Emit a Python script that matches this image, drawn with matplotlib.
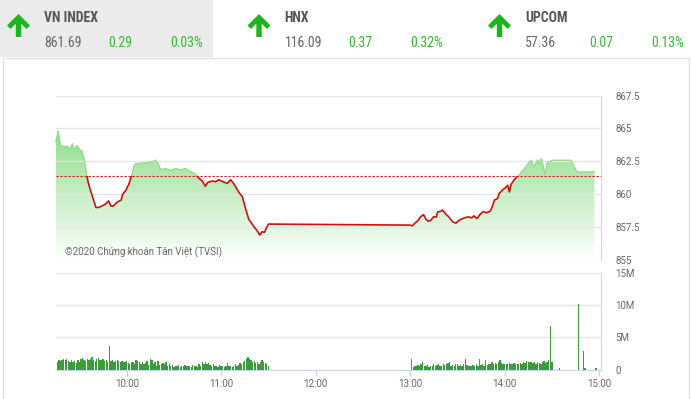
import numpy as np
import matplotlib
matplotlib.use("Agg")
import matplotlib.pyplot as plt
from matplotlib import font_manager
from matplotlib.patches import Polygon, Rectangle

# intraday VN-Index, time -> index value
price_times = ["09:15:00", "09:16:30", "09:18:00", "09:20:30", "09:22:30", "09:24:00", "09:25:30",
               "09:26:30", "09:28:30", "09:30:00", "09:31:30", "09:33:00", "09:34:30", "09:35:30",
               "09:37:00", "09:39:00", "09:40:30", "09:42:30", "09:43:30", "09:46:30", "09:48:30",
               "09:50:00", "09:51:30", "09:54:00", "09:56:30", "09:57:30", "09:59:30", "10:01:30",
               "10:03:00", "10:04:30", "10:05:30", "10:09:00", "10:13:00", "10:17:30", "10:18:30",
               "10:20:30", "10:21:30", "10:25:00", "10:28:00", "10:31:00", "10:33:30", "10:37:30",
               "10:40:30", "10:43:30", "10:46:00", "10:48:00", "10:50:00", "10:51:30", "10:54:30",
               "10:56:30", "10:58:30", "11:02:00", "11:04:00", "11:06:00", "11:08:00", "11:11:30",
               "11:13:30", "11:15:30", "11:17:30", "11:21:00", "11:23:00", "11:24:30", "11:26:00",
               "11:27:30", "11:29:00", "11:30:00", "13:00:00", "13:01:30", "13:03:00", "13:05:00",
               "13:06:30", "13:08:30", "13:10:00", "13:11:30", "13:13:00", "13:15:00", "13:16:30",
               "13:17:30", "13:19:30", "13:20:30", "13:22:30", "13:24:30", "13:27:00", "13:29:00",
               "13:31:00", "13:32:30", "13:34:30", "13:37:00", "13:39:00", "13:40:30", "13:42:30",
               "13:44:30", "13:46:30", "13:48:30", "13:51:00", "13:52:30", "13:53:30", "13:55:30",
               "13:56:30", "13:58:30", "14:00:30", "14:02:00", "14:03:00", "14:04:00", "14:05:30",
               "14:07:30", "14:09:00", "14:11:30", "14:13:30", "14:15:30", "14:17:00", "14:18:30",
               "14:21:00", "14:22:00", "14:23:00", "14:24:00", "14:25:30", "14:27:00", "14:30:30",
               "14:42:00", "14:46:00", "14:57:00"]
price_values = [864.0, 864.8, 863.7, 863.6, 863.65, 863.4, 863.84,
                863.4, 863.7, 863.4, 863.3, 862.7, 861.57, 860.93,
                860.3, 859.55, 858.99, 859.0, 859.06, 859.24, 859.49,
                859.1, 859.1, 859.4, 859.55, 860.0, 860.3, 860.8,
                861.36, 862.07, 862.32, 862.35, 862.4, 862.52, 862.6,
                862.2, 861.87, 861.95, 861.8, 861.98, 861.85, 861.95,
                861.7, 861.57, 861.2, 861.0, 860.6, 860.9, 861.0,
                860.95, 861.1, 860.9, 860.83, 861.1, 860.8, 860.1,
                859.8, 858.9, 858.1, 857.5, 857.2, 856.9, 857.15,
                857.1, 857.5, 857.73, 857.65, 857.6, 857.8, 858.0,
                858.28, 858.45, 858.1, 857.95, 858.0, 858.3, 858.25,
                858.66, 858.7, 858.8, 858.5, 858.28, 857.9, 857.8,
                858.0, 858.1, 858.2, 858.28, 858.2, 858.35, 858.15,
                858.48, 858.68, 858.58, 858.73, 859.17, 859.55, 859.67,
                860.05, 860.3, 860.5, 860.68, 860.17, 860.73, 861.0,
                861.3, 861.45, 861.8, 862.1, 862.45, 862.58, 862.1,
                862.6, 862.27, 862.7, 862.45, 861.52, 862.4, 862.58,
                862.58, 861.69, 861.69]
ref_price = 861.40

# volume per minute, millions of shares
vol_am_start = "09:15"
vol_am = [6.6, 1.2, 1.4, 1.3, 1.5, 1.6, 1.4, 1.7, 1.3, 1.2,
          1.5, 1.1, 1.3, 1.0, 1.4, 1.2, 1.6, 1.8, 1.5, 1.3,
          1.7, 1.4, 1.6, 1.9, 1.5, 1.3, 1.7, 1.8, 1.5, 1.4,
          1.6, 1.3, 1.5, 1.2, 3.6, 1.3, 1.4, 1.2, 1.3, 1.4,
          1.3, 1.2, 1.3, 1.2, 1.1, 1.3, 1.0, 0.9, 1.1, 1.2,
          0.8, 1.5, 1.3, 1.1, 0.9, 1.2, 0.8, 1.0, 1.3, 0.7,
          1.6, 1.4, 0.8, 1.1, 0.6, 1.3, 0.7, 0.9, 1.0, 0.8,
          1.2, 0.6, 0.9, 0.5, 0.7, 0.4, 0.6, 0.5, 0.7, 0.4,
          0.6, 0.5, 0.7, 0.6, 0.5, 0.6, 0.4, 0.7, 0.5, 0.6,
          0.4, 0.8, 0.5, 1.1, 0.9, 1.2, 0.8, 1.0, 0.7, 0.6,
          0.8, 0.5, 0.6, 0.4, 0.7, 0.5, 0.6, 0.4, 0.5, 1.0,
          0.6, 0.5, 0.4, 0.6, 0.8, 0.5, 0.7, 1.0, 0.9, 1.1,
          1.3, 1.6, 1.9, 1.7, 1.4, 1.1, 1.3, 1.0, 1.2, 0.9,
          1.2, 1.4, 1.1, 1.0, 0.8, 0.5]
vol_pm_start = "13:01"
vol_pm = [1.6, 0.4, 0.5, 0.6, 0.7, 0.5, 0.8, 1.2, 0.6, 0.5,
          0.7, 0.4, 0.6, 0.5, 0.8, 0.6, 0.7, 0.9, 0.5, 0.6,
          0.8, 0.7, 0.9, 1.0, 1.1, 0.6, 0.7, 0.5, 0.9, 0.8,
          0.6, 0.7, 0.5, 0.8, 1.7, 0.7, 0.6, 0.5, 0.6, 0.7,
          0.5, 0.8, 0.6, 1.6, 0.7, 0.9, 0.6, 1.4, 0.7, 0.8,
          0.9, 1.1, 0.8, 1.0, 0.9, 1.2, 1.5, 1.0, 0.9, 0.8,
          0.9, 0.8, 1.0, 0.8, 0.9, 1.0, 0.8, 0.9, 0.8, 1.0,
          0.9, 1.1, 1.0, 1.3, 1.2, 1.1, 1.2, 1.0, 1.1, 0.9,
          1.2, 1.0, 0.9, 1.1, 1.3, 1.0, 1.2, 1.4, 6.8, 1.2]
atc_times = ["14:35", "14:47", "14:50", "14:51", "14:58"]
atc_vol = [0.2, 10.2, 2.9, 0.3, 0.2]

price_ticks = [855, 857.5, 860, 862.5, 865, 867.5]
price_labels = ["855", "857.5", "860", "862.5", "865", "867.5"]
vol_ticks = [0, 5, 10, 15]
vol_labels = ["0", "5M", "10M", "15M"]
time_labels = ["10:00", "11:00", "12:00", "13:00", "14:00", "15:00"]

idx_names = ["VN INDEX", "HNX", "UPCOM"]
idx_values = ["861.69", "116.09", "57.36"]
idx_change = ["0.29", "0.37", "0.07"]
idx_pct = ["0.03%", "0.32%", "0.13%"]


def to_min(s):
    p = [int(v) for v in s.split(":")]
    return p[0] * 60 + p[1] + (p[2] / 60 if len(p) > 2 else 0)


names = {f.name for f in font_manager.fontManager.ttflist}
head_font = "Roboto"
for cand in ["Roboto Condensed", "Liberation Sans Narrow"]:
    if cand in names:
        head_font = cand
        break

W, H = 691, 399
fig = plt.figure(figsize=(W / 100, H / 100), dpi=100)


def box(l, t, r, b):
    return [l / W, 1 - b / H, (r - l) / W, (b - t) / H]


# header / frame decoration in pixel coordinates
deco = fig.add_axes([0, 0, 1, 1])
deco.set_xlim(0, W)
deco.set_ylim(H, 0)
deco.axis("off")
deco.add_patch(Rectangle((0, 0), 213, 57, color="#ebebeb", lw=0))
deco.plot([3, 3, 689, 689], [H + 2, 58, 58, H + 2], color="#e2e2e2", lw=1)

arrow = np.array([[0, -11.5], [11.5, 0], [8, 3.5], [2.7, -1.8], [2.7, 11.5], [-2.7, 11.5],
                  [-2.7, -1.8], [-8, 3.5], [-11.5, 0]])
green = "#33bb33"
for i, name in enumerate(idx_names):
    x0 = 44 + i * 240.5
    deco.add_patch(Polygon(arrow + [x0 - 25.5, 25.5], closed=True, color="#1cb51c", lw=0))
    deco.text(x0, 22.3, name, fontsize=10, fontweight="bold", color="#555555",
              family=head_font, va="baseline")
    deco.text(x0, 47.3, idx_values[i], fontsize=10, color="#666666", family=head_font, va="baseline")
    deco.text(x0 + 64, 47.3, idx_change[i], fontsize=10, color=green, family=head_font, va="baseline")
    deco.text(x0 + 126, 47.3, idx_pct[i], fontsize=10, color=green, family=head_font, va="baseline")

# price panel
ax = fig.add_axes(box(55.8, 95.5, 600.7, 260))
ax.set_facecolor("none")
t = np.array([to_min(s) for s in price_times])
p = np.array(price_values)
x0, x1 = to_min("09:15"), to_min("15:01")

top = np.array([0x6f, 0xd4, 0x68]) / 255
g = np.linspace(0, 1, 256).reshape(-1, 1, 1)
img = 1 - g * (1 - top)
im = ax.imshow(img, extent=[x0, x1, 855, 867.5], origin="lower", aspect="auto", zorder=1)
area = ax.fill_between(t, p, 855, facecolor="none", edgecolor="none")
im.set_clip_path(area.get_paths()[0], ax.transData)

below = Rectangle((x0 - 10, 850), x1 - x0 + 20, ref_price - 850, transform=ax.transData)
above = Rectangle((x0 - 10, ref_price), x1 - x0 + 20, 20, transform=ax.transData)
l1, = ax.plot(t, p, color="#cc1111", lw=1.2, zorder=3)
l1.set_clip_path(below)
l2, = ax.plot(t, p, color="#8edb88", lw=0.9, zorder=3)
l2.set_clip_path(above)
ax.axhline(ref_price, color="#cc1111", lw=0.8, ls=(0, (2, 1.6)), zorder=4)

ax.set_xlim(x0, x1)
ax.set_ylim(855, 867.5)
ax.set_yticks(price_ticks)
ax.set_yticklabels(price_labels)
ax.yaxis.tick_right()
ax.tick_params(axis="y", length=0, pad=10.5, labelsize=7, labelcolor="#666666")
ax.set_xticks([])
ax.grid(axis="y", color="#e6e6e6", lw=1, zorder=0)
for s in ["top", "left", "bottom"]:
    ax.spines[s].set_visible(False)
ax.spines["right"].set_color("#ccd6eb")
for lab in ax.get_yticklabels():
    lab.set_family("Roboto")
fig.text(65 / W, 1 - 252 / H, "©2020 Chứng khoán Tân Việt (TVSI)", fontsize=7,
         color="#666666", family="Roboto", va="center")

# volume panel
axv = fig.add_axes(box(55.8, 273, 600.7, 369.5))
axv.set_facecolor("none")
am_x = to_min(vol_am_start) + np.arange(len(vol_am))
pm_x = to_min(vol_pm_start) + np.arange(len(vol_pm))
atc_x = np.array([to_min(s) for s in atc_times])
bar_c = "#3a9c3a"
axv.bar(am_x, vol_am, width=0.85, color=bar_c, lw=0, zorder=3)
axv.bar(pm_x, vol_pm, width=0.85, color=bar_c, lw=0, zorder=3)
axv.bar(atc_x, atc_vol, width=0.85, color=bar_c, lw=0, zorder=3)
axv.set_xlim(x0, x1)
axv.set_ylim(0, 15)
axv.set_yticks(vol_ticks)
axv.set_yticklabels(vol_labels)
axv.yaxis.tick_right()
axv.tick_params(axis="y", length=0, pad=10.5, labelsize=7, labelcolor="#666666")
axv.set_xticks([to_min(s) for s in time_labels])
axv.set_xticklabels(time_labels)
axv.tick_params(axis="x", length=4, width=1, color="#ccd6eb", pad=2.5, labelsize=7,
                labelcolor="#666666")
axv.grid(axis="y", color="#e6e6e6", lw=1, zorder=0)
for s in ["top", "left"]:
    axv.spines[s].set_visible(False)
axv.spines["right"].set_color("#ccd6eb")
axv.spines["bottom"].set_color("#ccd6eb")
for lab in axv.get_yticklabels() + axv.get_xticklabels():
    lab.set_family("Roboto")

fig.savefig("out.png", dpi=100)
